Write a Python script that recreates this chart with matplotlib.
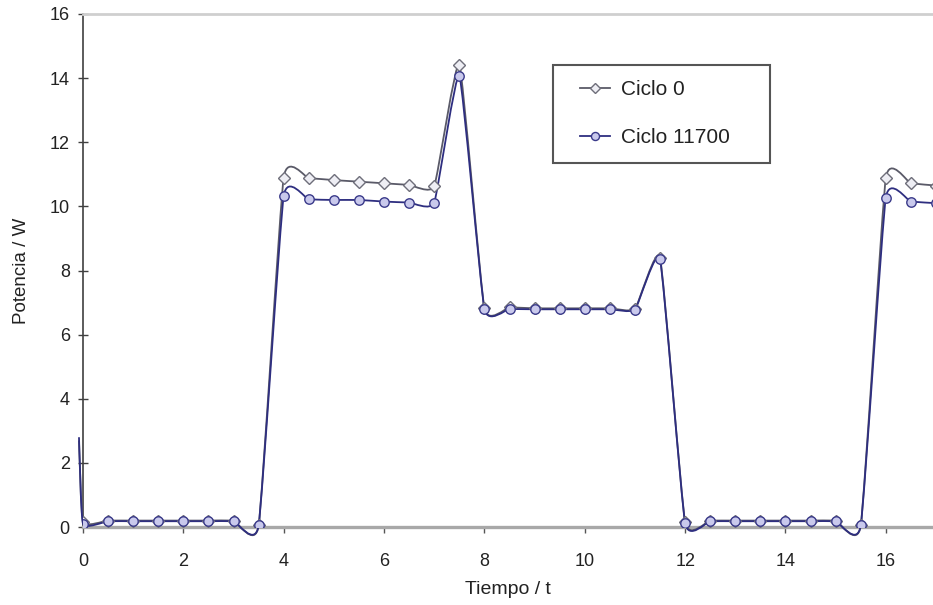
import matplotlib
matplotlib.use("Agg")
import matplotlib.pyplot as plt
from matplotlib.path import Path
from matplotlib.patches import PathPatch, Rectangle
from matplotlib.lines import Line2D
import numpy as np

plt.rcParams['font.family'] = ['Liberation Sans', 'DejaVu Sans']

# ---- data ----
tiempo = [-0.08, 0.0, 0.5, 1.0, 1.5, 2.0, 2.5, 3.0, 3.5, 4.0, 4.5, 5.0, 5.5, 6.0, 6.5, 7.0,
          7.5, 8.0, 8.5, 9.0, 9.5, 10.0, 10.5, 11.0, 11.5, 12.0, 12.5, 13.0, 13.5,
          14.0, 14.5, 15.0, 15.5, 16.0, 16.5, 17.0]
ciclo0 = [2.7, 0.15, 0.2, 0.2, 0.2, 0.2, 0.2, 0.2, 0.05, 10.9, 10.88, 10.82, 10.77, 10.72,
          10.67, 10.63, 14.42, 6.82, 6.85, 6.82, 6.82, 6.82, 6.82, 6.8, 8.4, 0.15,
          0.2, 0.2, 0.2, 0.2, 0.2, 0.2, 0.05, 10.88, 10.72, 10.65]
ciclo11700 = [2.8, 0.1, 0.18, 0.18, 0.18, 0.18, 0.18, 0.18, 0.05, 10.32, 10.22, 10.2, 10.2,
              10.15, 10.12, 10.12, 14.07, 6.8, 6.8, 6.79, 6.79, 6.79, 6.79, 6.78, 8.35,
              0.12, 0.18, 0.18, 0.18, 0.18, 0.18, 0.18, 0.05, 10.27, 10.15, 10.1]
etiquetas = ["Ciclo 0", "Ciclo 11700"]

W, H, DPI = 933, 605, 100
fig = plt.figure(figsize=(W / DPI, H / DPI), dpi=DPI)
ax = fig.add_axes([83 / W, 1 - 527 / H, (933 - 83) / W, (527 - 14) / H])
ax.set_xlim(0, 16.94)
ax.set_ylim(0, 16)

TENSION = 1 / 14


def smooth_path(xs, ys):
    # smoothed line drawn as cubic Bezier path through the data points
    xs = np.asarray(xs, float)
    ys = np.asarray(ys, float)
    n = len(xs)
    verts = [(xs[0], ys[0])]
    codes = [Path.MOVETO]
    for i in range(n - 1):
        i0 = max(i - 1, 0)
        i3 = min(i + 2, n - 1)
        c1 = (xs[i] + (xs[i + 1] - xs[i0]) * TENSION, ys[i] + (ys[i + 1] - ys[i0]) * TENSION)
        c2 = (xs[i + 1] - (xs[i3] - xs[i]) * TENSION, ys[i + 1] - (ys[i3] - ys[i]) * TENSION)
        verts += [c1, c2, (xs[i + 1], ys[i + 1])]
        codes += [Path.CURVE4] * 3
    return Path(verts, codes)


styles = [
    dict(line='#5a5a68', marker='D', ms=6, mfc='#eeeef4', mec='#6e6e7a'),
    dict(line='#2e2e80', marker='o', ms=6.8, mfc='#c9c9ec', mec='#3a3a8a'),
]
series = [ciclo0, ciclo11700]

handles = []
for ys, st, lab in zip(series, styles, etiquetas):
    patch = PathPatch(smooth_path(tiempo, ys), facecolor='none', edgecolor=st['line'],
                      lw=1.3, clip_on=False, zorder=3)
    ax.add_patch(patch)
    ax.plot(tiempo[1:], ys[1:], linestyle='none', marker=st['marker'], ms=st['ms'],
            mfc=st['mfc'], mec=st['mec'], mew=1.0, zorder=4)
    handles.append(Line2D([], [], color=st['line'], lw=1.3, marker=st['marker'],
                          ms=st['ms'] - 1, mfc=st['mfc'], mec=st['mec'], label=lab))

# spines
ax.spines['right'].set_visible(False)
ax.spines['top'].set_color('#cfcfcf')
ax.spines['top'].set_linewidth(2)
ax.spines['bottom'].set_color('#a8a8a8')
ax.spines['bottom'].set_linewidth(2.4)
ax.spines['left'].set_color('#404040')
ax.spines['left'].set_linewidth(1.2)

ax.set_xticks(np.arange(0, 17, 2))
ax.set_yticks(np.arange(0, 17, 2))
ax.tick_params(axis='y', direction='inout', length=7, width=1, color='#404040',
               labelsize=13, labelcolor='#222222', pad=6)
ax.tick_params(axis='x', direction='out', length=4, width=1, color='#555555',
               labelsize=13, labelcolor='#222222', pad=15)

ax.set_xlabel('Tiempo / t', fontsize=14, color='#222222', labelpad=8)
ax.set_ylabel('Potencia / W', fontsize=13.5, color='#222222', labelpad=14)

# legend frame
frame = Rectangle((553 / W, 1 - 163 / H), (770 - 553) / W, (163 - 65) / H,
                  transform=fig.transFigure, facecolor='white', edgecolor='#555555',
                  lw=1.5, zorder=5)
fig.add_artist(frame)
leg = fig.legend(handles=handles, loc='upper left', bbox_to_anchor=(580 / W, 1 - 80 / H),
                 fontsize=15, frameon=False, handlelength=1.45,
                 handletextpad=0.5, labelspacing=1.4, borderpad=0, borderaxespad=0)
leg.set_zorder(6)
for t in leg.get_texts():
    t.set_color('#222222')

fig.savefig('out.png', dpi=DPI)
